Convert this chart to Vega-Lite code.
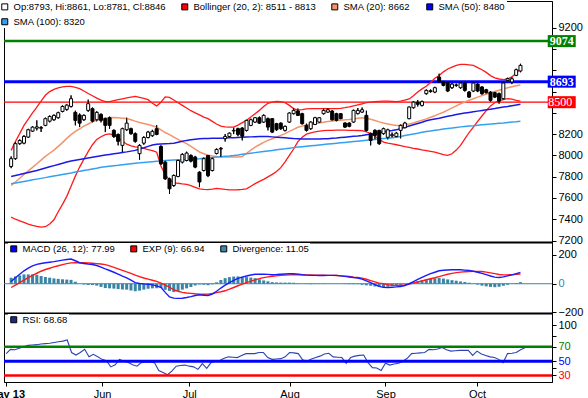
{
"$schema": "https://vega.github.io/schema/vega-lite/v6.json",
"background": "white",
"padding": {"left": -13, "top": 0, "right": 0, "bottom": 0},
"spacing": 0,
"bounds": "flush",
"config": {
 "view": {"stroke": "black", "strokeWidth": 1},
 "axis": {"labelFont": "Liberation Sans", "labelFontSize": 11, "labelColor": "black", "tickColor": "black", "domainColor": "black", "tickSize": 4, "grid": false, "labelPadding": 2},
 "legend": {"symbolType": "square", "symbolSize": 36, "symbolStrokeColor": "black", "symbolStrokeWidth": 1, "symbolOpacity": 1, "labelFont": "Liberation Sans", "labelFontSize": 9.5, "labelColor": "black", "labelLimit": 400, "columnPadding": 13, "rowPadding": 4, "padding": 1, "fillColor": "white", "orient": "none", "direction": "horizontal", "labelOffset": 4, "gridAlign": "each"}
},
"datasets": {
 "levels": [{"v": 9074}, {"v": 8693}, {"v": 8500}],
 "bars": [
{"i":0,"o":7896,"h":7990,"l":7880,"c":7969,"bu":8047,"bl":7419,"s20":7717,"s50":7802,"s100":7733,"m":16,"sg":-26,"hd":42,"r":60.5},
{"i":1,"o":7969,"h":8125,"l":7959,"c":8110,"bu":8130,"bl":7400,"s20":7750,"s50":7811,"s100":7740,"m":42,"sg":-9,"hd":51,"r":66.5},
{"i":2,"o":8110,"h":8150,"l":8100,"c":8140,"bu":8205,"bl":7385,"s20":7785,"s50":7820,"s100":7748,"m":66,"sg":8,"hd":58,"r":66},
{"i":3,"o":8115,"h":8190,"l":8105,"c":8178,"bu":8282,"bl":7370,"s20":7820,"s50":7830,"s100":7755,"m":90,"sg":25,"hd":65,"r":68},
{"i":4,"o":8172,"h":8250,"l":8165,"c":8241,"bu":8340,"bl":7355,"s20":7855,"s50":7840,"s100":7762,"m":108,"sg":43,"hd":65,"r":70},
{"i":5,"o":8228,"h":8275,"l":8220,"c":8266,"bu":8400,"bl":7343,"s20":7888,"s50":7849,"s100":7770,"m":124,"sg":58,"hd":66,"r":72},
{"i":6,"o":8255,"h":8329,"l":8235,"c":8268,"bu":8454,"bl":7333,"s20":7921,"s50":7858,"s100":7777,"m":135,"sg":73,"hd":62,"r":72.5},
{"i":7,"o":8255,"h":8275,"l":8220,"c":8262,"bu":8510,"bl":7326,"s20":7955,"s50":7870,"s100":7784,"m":141,"sg":87,"hd":54,"r":73},
{"i":8,"o":8282,"h":8355,"l":8275,"c":8345,"bu":8565,"bl":7330,"s20":7990,"s50":7882,"s100":7791,"m":146,"sg":99,"hd":47,"r":74},
{"i":9,"o":8322,"h":8375,"l":8310,"c":8366,"bu":8600,"bl":7355,"s20":8020,"s50":7893,"s100":7799,"m":150,"sg":108,"hd":42,"r":74.5},
{"i":10,"o":8335,"h":8385,"l":8325,"c":8376,"bu":8620,"bl":7395,"s20":8050,"s50":7904,"s100":7806,"m":154,"sg":117,"hd":37,"r":75},
{"i":11,"o":8354,"h":8410,"l":8345,"c":8401,"bu":8635,"bl":7470,"s20":8085,"s50":7915,"s100":7813,"m":159,"sg":125,"hd":34,"r":76},
{"i":12,"o":8413,"h":8470,"l":8405,"c":8460,"bu":8643,"bl":7540,"s20":8120,"s50":7926,"s100":7821,"m":164,"sg":133,"hd":31,"r":77},
{"i":13,"o":8432,"h":8480,"l":8420,"c":8473,"bu":8648,"bl":7615,"s20":8160,"s50":7938,"s100":7828,"m":169,"sg":140,"hd":29,"r":78},
{"i":14,"o":8460,"h":8564,"l":8450,"c":8533,"bu":8648,"bl":7710,"s20":8195,"s50":7948,"s100":7835,"m":172,"sg":145,"hd":27,"r":79.5},
{"i":15,"o":8404,"h":8420,"l":8282,"c":8329,"bu":8640,"bl":7805,"s20":8225,"s50":7955,"s100":7843,"m":160,"sg":146,"hd":14,"r":62},
{"i":16,"o":8380,"h":8395,"l":8266,"c":8303,"bu":8627,"bl":7890,"s20":8250,"s50":7962,"s100":7850,"m":146,"sg":146,"hd":0,"r":58.5},
{"i":17,"o":8335,"h":8385,"l":8325,"c":8376,"bu":8605,"bl":7965,"s20":8275,"s50":7969,"s100":7858,"m":141,"sg":146,"hd":-5,"r":62},
{"i":18,"o":8423,"h":8524,"l":8410,"c":8486,"bu":8582,"bl":8035,"s20":8295,"s50":7976,"s100":7865,"m":137,"sg":145,"hd":-8,"r":66.5},
{"i":19,"o":8439,"h":8450,"l":8310,"c":8322,"bu":8560,"bl":8100,"s20":8315,"s50":7983,"s100":7873,"m":134,"sg":143,"hd":-9,"r":56},
{"i":20,"o":8335,"h":8415,"l":8320,"c":8404,"bu":8538,"bl":8150,"s20":8330,"s50":7990,"s100":7880,"m":127,"sg":140,"hd":-13,"r":59.5},
{"i":21,"o":8385,"h":8395,"l":8310,"c":8329,"bu":8520,"bl":8175,"s20":8342,"s50":7997,"s100":7888,"m":115,"sg":137,"hd":-22,"r":56},
{"i":22,"o":8345,"h":8355,"l":8219,"c":8282,"bu":8505,"bl":8195,"s20":8350,"s50":8003,"s100":7893,"m":103,"sg":133,"hd":-30,"r":52.5},
{"i":23,"o":8354,"h":8365,"l":8250,"c":8282,"bu":8505,"bl":8202,"s20":8354,"s50":8009,"s100":7898,"m":92,"sg":124,"hd":-32,"r":50.5},
{"i":24,"o":8235,"h":8245,"l":8165,"c":8178,"bu":8515,"bl":8190,"s20":8355,"s50":8015,"s100":7903,"m":80,"sg":114,"hd":-34,"r":42},
{"i":25,"o":8197,"h":8205,"l":8094,"c":8132,"bu":8524,"bl":8165,"s20":8353,"s50":8021,"s100":7907,"m":67,"sg":104,"hd":-37,"r":45},
{"i":26,"o":8094,"h":8260,"l":8031,"c":8251,"bu":8532,"bl":8135,"s20":8350,"s50":8027,"s100":7912,"m":53,"sg":93,"hd":-40,"r":52.5},
{"i":27,"o":8241,"h":8354,"l":8230,"c":8303,"bu":8540,"bl":8105,"s20":8346,"s50":8033,"s100":7917,"m":41,"sg":82,"hd":-41,"r":50},
{"i":28,"o":8251,"h":8260,"l":8195,"c":8204,"bu":8548,"bl":8090,"s20":8335,"s50":8040,"s100":7922,"m":25,"sg":72,"hd":-47,"r":48},
{"i":29,"o":8204,"h":8215,"l":8120,"c":8132,"bu":8555,"bl":8080,"s20":8322,"s50":8047,"s100":7927,"m":8,"sg":60,"hd":-52,"r":45},
{"i":30,"o":8016,"h":8105,"l":7959,"c":8094,"bu":8545,"bl":8075,"s20":8310,"s50":8060,"s100":7930,"m":2,"sg":50,"hd":-48,"r":43},
{"i":31,"o":8115,"h":8180,"l":8100,"c":8168,"bu":8535,"bl":8065,"s20":8300,"s50":8072,"s100":7934,"m":-1,"sg":40,"hd":-41,"r":48},
{"i":32,"o":8168,"h":8230,"l":8160,"c":8219,"bu":8524,"bl":8055,"s20":8290,"s50":8085,"s100":7937,"m":-3,"sg":32,"hd":-35,"r":49},
{"i":33,"o":8185,"h":8240,"l":8175,"c":8226,"bu":8490,"bl":8045,"s20":8278,"s50":8098,"s100":7941,"m":-8,"sg":24,"hd":-32,"r":48.5},
{"i":34,"o":8251,"h":8285,"l":8190,"c":8197,"bu":8465,"bl":8030,"s20":8265,"s50":8104,"s100":7944,"m":-15,"sg":16,"hd":-31,"r":48},
{"i":35,"o":8084,"h":8095,"l":7910,"c":7921,"bu":8500,"bl":7900,"s20":8240,"s50":8107,"s100":7947,"m":-25,"sg":5,"hd":-30,"r":37},
{"i":36,"o":7937,"h":7950,"l":7770,"c":7780,"bu":8550,"bl":7820,"s20":8215,"s50":8110,"s100":7951,"m":-60,"sg":-10,"hd":-42,"r":34},
{"i":37,"o":7780,"h":7790,"l":7639,"c":7686,"bu":8545,"bl":7770,"s20":8195,"s50":8112,"s100":7954,"m":-92,"sg":-24,"hd":-50,"r":31},
{"i":38,"o":7717,"h":7820,"l":7705,"c":7811,"bu":8520,"bl":7745,"s20":8172,"s50":8115,"s100":7956,"m":-100,"sg":-42,"hd":-58,"r":36},
{"i":39,"o":7802,"h":7960,"l":7795,"c":7952,"bu":8495,"bl":7738,"s20":8150,"s50":8124,"s100":7958,"m":-102,"sg":-52,"hd":-50,"r":43},
{"i":40,"o":7937,"h":8020,"l":7925,"c":8009,"bu":8470,"bl":7732,"s20":8130,"s50":8133,"s100":7960,"m":-101,"sg":-60,"hd":-41,"r":44},
{"i":41,"o":7952,"h":8035,"l":7945,"c":8022,"bu":8445,"bl":7727,"s20":8110,"s50":8141,"s100":7962,"m":-96,"sg":-64,"hd":-32,"r":44.5},
{"i":42,"o":7999,"h":8010,"l":7935,"c":7946,"bu":8420,"bl":7715,"s20":8085,"s50":8147,"s100":7965,"m":-90,"sg":-67,"hd":-23,"r":43},
{"i":43,"o":7984,"h":7995,"l":7880,"c":7890,"bu":8400,"bl":7700,"s20":8058,"s50":8152,"s100":7967,"m":-82,"sg":-70,"hd":-12,"r":42},
{"i":44,"o":7842,"h":7850,"l":7701,"c":7750,"bu":8380,"bl":7686,"s20":8032,"s50":8157,"s100":7969,"m":-77,"sg":-72,"hd":-5,"r":38.5},
{"i":45,"o":7858,"h":7980,"l":7850,"c":7969,"bu":8360,"bl":7680,"s20":8015,"s50":8158,"s100":7973,"m":-80,"sg":-73,"hd":-7,"r":46.5},
{"i":46,"o":7999,"h":8005,"l":7796,"c":7810,"bu":8345,"bl":7678,"s20":8002,"s50":8159,"s100":7977,"m":-82,"sg":-72,"hd":-10,"r":40},
{"i":47,"o":7858,"h":7980,"l":7850,"c":7969,"bu":8320,"bl":7683,"s20":7995,"s50":8160,"s100":7980,"m":-72,"sg":-68,"hd":-4,"r":48},
{"i":48,"o":8018,"h":8065,"l":8010,"c":8056,"bu":8295,"bl":7690,"s20":7990,"s50":8161,"s100":7984,"m":-52,"sg":-62,"hd":10,"r":50},
{"i":49,"o":8060,"h":8078,"l":7984,"c":8066,"bu":8275,"bl":7685,"s20":7988,"s50":8162,"s100":7988,"m":-30,"sg":-56,"hd":26,"r":51},
{"i":50,"o":8157,"h":8200,"l":8130,"c":8178,"bu":8268,"bl":7680,"s20":7986,"s50":8164,"s100":7992,"m":-10,"sg":-49,"hd":39,"r":54},
{"i":51,"o":8178,"h":8215,"l":8170,"c":8209,"bu":8266,"bl":7676,"s20":7984,"s50":8165,"s100":7995,"m":8,"sg":-38,"hd":46,"r":56},
{"i":52,"o":8230,"h":8260,"l":8200,"c":8235,"bu":8266,"bl":7675,"s20":7984,"s50":8166,"s100":7999,"m":24,"sg":-26,"hd":50,"r":55.5},
{"i":53,"o":8251,"h":8260,"l":8180,"c":8197,"bu":8285,"bl":7677,"s20":7984,"s50":8168,"s100":8004,"m":37,"sg":-14,"hd":51,"r":55},
{"i":54,"o":8257,"h":8265,"l":8141,"c":8180,"bu":8308,"bl":7680,"s20":7990,"s50":8170,"s100":8010,"m":46,"sg":-3,"hd":49,"r":58},
{"i":55,"o":8235,"h":8335,"l":8225,"c":8329,"bu":8330,"bl":7685,"s20":8020,"s50":8172,"s100":8015,"m":54,"sg":8,"hd":46,"r":60.5},
{"i":56,"o":8282,"h":8345,"l":8275,"c":8335,"bu":8360,"bl":7710,"s20":8050,"s50":8174,"s100":8021,"m":61,"sg":18,"hd":43,"r":60.5},
{"i":57,"o":8313,"h":8360,"l":8305,"c":8354,"bu":8392,"bl":7735,"s20":8078,"s50":8176,"s100":8026,"m":66,"sg":27,"hd":39,"r":60.5},
{"i":58,"o":8354,"h":8365,"l":8295,"c":8303,"bu":8423,"bl":7755,"s20":8100,"s50":8177,"s100":8031,"m":67,"sg":36,"hd":31,"r":62},
{"i":59,"o":8313,"h":8385,"l":8305,"c":8376,"bu":8460,"bl":7775,"s20":8122,"s50":8178,"s100":8037,"m":66,"sg":43,"hd":23,"r":62},
{"i":60,"o":8345,"h":8355,"l":8235,"c":8266,"bu":8490,"bl":7798,"s20":8141,"s50":8177,"s100":8042,"m":65,"sg":48,"hd":17,"r":55},
{"i":61,"o":8345,"h":8350,"l":8210,"c":8219,"bu":8500,"bl":7822,"s20":8157,"s50":8174,"s100":8047,"m":63,"sg":52,"hd":11,"r":52.5},
{"i":62,"o":8298,"h":8305,"l":8230,"c":8241,"bu":8507,"bl":7848,"s20":8172,"s50":8171,"s100":8052,"m":64,"sg":55,"hd":9,"r":53},
{"i":63,"o":8303,"h":8310,"l":8240,"c":8251,"bu":8505,"bl":7885,"s20":8188,"s50":8168,"s100":8057,"m":66,"sg":58,"hd":8,"r":53.5},
{"i":64,"o":8235,"h":8280,"l":8225,"c":8273,"bu":8495,"bl":7940,"s20":8205,"s50":8165,"s100":8062,"m":68,"sg":60,"hd":8,"r":56},
{"i":65,"o":8313,"h":8405,"l":8305,"c":8398,"bu":8470,"bl":8000,"s20":8225,"s50":8162,"s100":8068,"m":70,"sg":62,"hd":8,"r":62},
{"i":66,"o":8392,"h":8445,"l":8385,"c":8423,"bu":8440,"bl":8060,"s20":8245,"s50":8159,"s100":8073,"m":70,"sg":63,"hd":7,"r":61.5},
{"i":67,"o":8417,"h":8440,"l":8370,"c":8376,"bu":8425,"bl":8130,"s20":8264,"s50":8157,"s100":8078,"m":67,"sg":64,"hd":3,"r":60.5},
{"i":68,"o":8392,"h":8400,"l":8290,"c":8298,"bu":8430,"bl":8170,"s20":8275,"s50":8155,"s100":8082,"m":63,"sg":63,"hd":0,"r":52},
{"i":69,"o":8282,"h":8298,"l":8225,"c":8235,"bu":8438,"bl":8200,"s20":8285,"s50":8154,"s100":8086,"m":60,"sg":62,"hd":-2,"r":50},
{"i":70,"o":8251,"h":8320,"l":8240,"c":8313,"bu":8440,"bl":8212,"s20":8293,"s50":8154,"s100":8090,"m":58,"sg":61,"hd":-3,"r":53},
{"i":71,"o":8291,"h":8362,"l":8285,"c":8354,"bu":8440,"bl":8220,"s20":8298,"s50":8155,"s100":8094,"m":58,"sg":60,"hd":-2,"r":55},
{"i":72,"o":8313,"h":8360,"l":8305,"c":8354,"bu":8439,"bl":8228,"s20":8305,"s50":8155,"s100":8098,"m":57,"sg":59,"hd":-2,"r":57},
{"i":73,"o":8392,"h":8440,"l":8385,"c":8423,"bu":8439,"bl":8232,"s20":8312,"s50":8156,"s100":8102,"m":57,"sg":59,"hd":-2,"r":60},
{"i":74,"o":8407,"h":8445,"l":8400,"c":8429,"bu":8439,"bl":8235,"s20":8318,"s50":8157,"s100":8106,"m":58,"sg":58,"hd":0,"r":61},
{"i":75,"o":8417,"h":8425,"l":8325,"c":8335,"bu":8440,"bl":8236,"s20":8323,"s50":8160,"s100":8110,"m":58,"sg":58,"hd":0,"r":56},
{"i":76,"o":8392,"h":8400,"l":8320,"c":8329,"bu":8440,"bl":8238,"s20":8327,"s50":8163,"s100":8114,"m":58,"sg":57,"hd":1,"r":55.5},
{"i":77,"o":8392,"h":8398,"l":8340,"c":8345,"bu":8442,"bl":8238,"s20":8331,"s50":8167,"s100":8118,"m":55,"sg":55,"hd":0,"r":55},
{"i":78,"o":8304,"h":8310,"l":8258,"c":8266,"bu":8448,"bl":8237,"s20":8334,"s50":8171,"s100":8122,"m":51,"sg":53,"hd":-2,"r":47},
{"i":79,"o":8304,"h":8310,"l":8265,"c":8273,"bu":8455,"bl":8236,"s20":8338,"s50":8175,"s100":8126,"m":47,"sg":50,"hd":-3,"r":55},
{"i":80,"o":8313,"h":8430,"l":8305,"c":8423,"bu":8465,"bl":8235,"s20":8343,"s50":8179,"s100":8130,"m":43,"sg":46,"hd":-3,"r":57},
{"i":81,"o":8392,"h":8445,"l":8385,"c":8423,"bu":8475,"bl":8234,"s20":8348,"s50":8183,"s100":8134,"m":40,"sg":43,"hd":-3,"r":58},
{"i":82,"o":8407,"h":8450,"l":8400,"c":8429,"bu":8485,"bl":8232,"s20":8353,"s50":8188,"s100":8138,"m":32,"sg":39,"hd":-7,"r":58.5},
{"i":83,"o":8376,"h":8420,"l":8225,"c":8235,"bu":8495,"bl":8222,"s20":8350,"s50":8194,"s100":8142,"m":20,"sg":31,"hd":-11,"r":48},
{"i":84,"o":8204,"h":8215,"l":8094,"c":8141,"bu":8501,"bl":8205,"s20":8340,"s50":8200,"s100":8146,"m":8,"sg":22,"hd":-14,"r":41},
{"i":85,"o":8235,"h":8245,"l":8150,"c":8188,"bu":8505,"bl":8180,"s20":8328,"s50":8207,"s100":8150,"m":-6,"sg":13,"hd":-19,"r":40.5},
{"i":86,"o":8235,"h":8240,"l":8100,"c":8110,"bu":8508,"bl":8150,"s20":8315,"s50":8213,"s100":8154,"m":-18,"sg":4,"hd":-22,"r":37},
{"i":87,"o":8204,"h":8260,"l":8195,"c":8251,"bu":8510,"bl":8125,"s20":8305,"s50":8220,"s100":8158,"m":-25,"sg":0,"hd":-25,"r":47},
{"i":88,"o":8170,"h":8250,"l":8150,"c":8240,"bu":8510,"bl":8115,"s20":8296,"s50":8227,"s100":8162,"m":-26,"sg":-6,"hd":-20,"r":44.5},
{"i":89,"o":8185,"h":8215,"l":8170,"c":8195,"bu":8508,"bl":8108,"s20":8288,"s50":8233,"s100":8166,"m":-24,"sg":-10,"hd":-14,"r":46},
{"i":90,"o":8178,"h":8220,"l":8170,"c":8209,"bu":8505,"bl":8100,"s20":8282,"s50":8240,"s100":8170,"m":-22,"sg":-12,"hd":-10,"r":47},
{"i":91,"o":8235,"h":8290,"l":8160,"c":8282,"bu":8510,"bl":8092,"s20":8284,"s50":8252,"s100":8178,"m":-19,"sg":-11,"hd":-8,"r":50},
{"i":92,"o":8260,"h":8315,"l":8255,"c":8304,"bu":8520,"bl":8083,"s20":8290,"s50":8264,"s100":8186,"m":-12,"sg":-8,"hd":-4,"r":54},
{"i":93,"o":8345,"h":8460,"l":8340,"c":8454,"bu":8530,"bl":8075,"s20":8296,"s50":8276,"s100":8194,"m":0,"sg":-3,"hd":3,"r":60.5},
{"i":94,"o":8448,"h":8510,"l":8440,"c":8501,"bu":8560,"bl":8066,"s20":8305,"s50":8288,"s100":8202,"m":15,"sg":4,"hd":11,"r":61},
{"i":95,"o":8500,"h":8520,"l":8460,"c":8480,"bu":8595,"bl":8060,"s20":8318,"s50":8300,"s100":8209,"m":30,"sg":12,"hd":18,"r":61.5},
{"i":96,"o":8470,"h":8515,"l":8460,"c":8505,"bu":8625,"bl":8052,"s20":8330,"s50":8312,"s100":8217,"m":45,"sg":20,"hd":25,"r":62},
{"i":97,"o":8580,"h":8620,"l":8570,"c":8611,"bu":8650,"bl":8045,"s20":8343,"s50":8325,"s100":8225,"m":58,"sg":28,"hd":30,"r":66.5},
{"i":98,"o":8600,"h":8620,"l":8590,"c":8608,"bu":8685,"bl":8038,"s20":8358,"s50":8334,"s100":8230,"m":70,"sg":35,"hd":35,"r":66},
{"i":99,"o":8595,"h":8645,"l":8585,"c":8636,"bu":8725,"bl":8031,"s20":8373,"s50":8342,"s100":8236,"m":80,"sg":42,"hd":38,"r":67},
{"i":100,"o":8736,"h":8768,"l":8680,"c":8691,"bu":8750,"bl":8020,"s20":8390,"s50":8350,"s100":8241,"m":90,"sg":50,"hd":40,"r":69},
{"i":101,"o":8691,"h":8700,"l":8650,"c":8658,"bu":8785,"bl":8008,"s20":8405,"s50":8359,"s100":8247,"m":94,"sg":58,"hd":36,"r":66},
{"i":102,"o":8682,"h":8690,"l":8595,"c":8605,"bu":8812,"bl":8000,"s20":8425,"s50":8367,"s100":8252,"m":96,"sg":66,"hd":30,"r":64},
{"i":103,"o":8636,"h":8680,"l":8625,"c":8670,"bu":8830,"bl":8015,"s20":8446,"s50":8375,"s100":8257,"m":97,"sg":72,"hd":25,"r":64.5},
{"i":104,"o":8658,"h":8675,"l":8645,"c":8662,"bu":8845,"bl":8050,"s20":8466,"s50":8384,"s100":8263,"m":98,"sg":77,"hd":21,"r":65},
{"i":105,"o":8636,"h":8690,"l":8625,"c":8680,"bu":8855,"bl":8094,"s20":8485,"s50":8392,"s100":8268,"m":97,"sg":81,"hd":16,"r":65},
{"i":106,"o":8680,"h":8690,"l":8600,"c":8611,"bu":8855,"bl":8155,"s20":8502,"s50":8398,"s100":8272,"m":95,"sg":83,"hd":12,"r":65},
{"i":107,"o":8595,"h":8605,"l":8540,"c":8548,"bu":8850,"bl":8215,"s20":8518,"s50":8404,"s100":8276,"m":92,"sg":85,"hd":7,"r":58},
{"i":108,"o":8605,"h":8690,"l":8595,"c":8680,"bu":8845,"bl":8265,"s20":8533,"s50":8410,"s100":8279,"m":87,"sg":86,"hd":1,"r":64},
{"i":109,"o":8670,"h":8680,"l":8595,"c":8605,"bu":8825,"bl":8320,"s20":8548,"s50":8416,"s100":8283,"m":80,"sg":86,"hd":-6,"r":60},
{"i":110,"o":8643,"h":8650,"l":8570,"c":8580,"bu":8805,"bl":8370,"s20":8562,"s50":8422,"s100":8287,"m":72,"sg":85,"hd":-13,"r":58},
{"i":111,"o":8617,"h":8625,"l":8580,"c":8589,"bu":8780,"bl":8420,"s20":8575,"s50":8428,"s100":8291,"m":63,"sg":81,"hd":-18,"r":56},
{"i":112,"o":8595,"h":8605,"l":8505,"c":8517,"bu":8750,"bl":8465,"s20":8588,"s50":8434,"s100":8294,"m":54,"sg":76,"hd":-22,"r":55},
{"i":113,"o":8589,"h":8598,"l":8540,"c":8548,"bu":8728,"bl":8495,"s20":8600,"s50":8440,"s100":8298,"m":46,"sg":70,"hd":-24,"r":52.5},
{"i":114,"o":8580,"h":8590,"l":8486,"c":8510,"bu":8718,"bl":8515,"s20":8612,"s50":8447,"s100":8302,"m":43,"sg":64,"hd":-21,"r":48},
{"i":115,"o":8533,"h":8690,"l":8525,"c":8680,"bu":8712,"bl":8525,"s20":8625,"s50":8454,"s100":8305,"m":48,"sg":62,"hd":-14,"r":60.5},
{"i":116,"o":8705,"h":8730,"l":8695,"c":8721,"bu":8718,"bl":8533,"s20":8636,"s50":8460,"s100":8309,"m":55,"sg":62,"hd":-7,"r":61},
{"i":117,"o":8690,"h":8735,"l":8670,"c":8720,"bu":8738,"bl":8528,"s20":8645,"s50":8467,"s100":8313,"m":62,"sg":63,"hd":-1,"r":62},
{"i":118,"o":8752,"h":8815,"l":8745,"c":8805,"bu":8775,"bl":8518,"s20":8654,"s50":8474,"s100":8316,"m":70,"sg":65,"hd":5,"r":66},
{"i":119,"o":8793,"h":8861,"l":8781,"c":8846,"bu":8813,"bl":8511,"s20":8662,"s50":8480,"s100":8320,"m":78,"sg":67,"hd":11,"r":68.7}
 ]
},
"data": {"name": "bars"},
"resolve": {
 "scale": {"color": "independent", "fill": "independent", "x": "independent", "y": "independent"},
 "legend": {"color": "independent", "fill": "independent"}
},
"vconcat": [
 {
  "width": 548, "height": 241,
  "layer": [
   {"data": {"values": [{"k": 1}]},
    "mark": {"type": "point", "shape": "square", "filled": true, "opacity": 0},
    "encoding": {"color": {"datum": "SMA (100): 8320", "type": "nominal",
      "scale": {"domain": ["Op:8793, Hi:8861, Lo:8781, Cl:8846", "Bollinger (20, 2): 8511 - 8813", "SMA (20): 8662", "SMA (50): 8480", "SMA (100): 8320"], "range": ["#ffffff", "#ff0000", "#f4946a", "#0000ff", "#33a0f0"]},
      "legend": {"title": null, "columns": 4, "legendX": -5, "legendY": 0}}}},
   {"mark": {"type": "rule", "color": "black", "strokeWidth": 1},
    "encoding": {"x": {"field": "i", "type": "quantitative", "scale": {"domain": [-0.5, 125.2], "nice": false, "zero": false},
       "axis": {"orient": "bottom", "labels": false, "ticks": false, "domainWidth": 2, "domainColor": "black", "title": null}},
     "y": {"field": "l", "type": "quantitative", "scale": {"domain": [7186, 9451], "nice": false, "zero": false},
       "axis": {"orient": "right", "title": null, "tickCount": 30, "labelOverlap": false, "labelBound": false, "values": [7200, 7400, 7600, 7800, 8000, 8200, 8400, 8600, 8800, 9000, 9200], "format": "d", "labelExpr": "(datum.value > 8200 && datum.value < 9200) ? '' : datum.label"}},
     "y2": {"field": "h"}}},
   {"data": {"values": [{"k": 1}]},
    "mark": {"type": "rule", "color": "#008000", "strokeWidth": 2.5},
    "encoding": {"y": {"datum": 9074, "type": "quantitative", "scale": {"domain": [7186, 9451], "nice": false, "zero": false}}}},
   {"data": {"values": [{"k": 1}]},
    "mark": {"type": "rule", "color": "#0000ff", "strokeWidth": 3},
    "encoding": {"y": {"datum": 8693, "type": "quantitative", "scale": {"domain": [7186, 9451], "nice": false, "zero": false}}}},
   {"data": {"values": [{"k": 1}]},
    "mark": {"type": "rule", "color": "#ff0000", "strokeWidth": 1.2},
    "encoding": {"y": {"datum": 8500, "type": "quantitative", "scale": {"domain": [7186, 9451], "nice": false, "zero": false}}}},
   {"mark": {"type": "line", "color": "#ff1a1a", "strokeWidth": 1.3},
    "encoding": {"x": {"field": "i", "type": "quantitative", "scale": {"domain": [-0.5, 125.2], "nice": false, "zero": false}},
     "y": {"field": "bu", "type": "quantitative", "scale": {"domain": [7186, 9451], "nice": false, "zero": false}}}},
   {"mark": {"type": "line", "color": "#ff1a1a", "strokeWidth": 1.3},
    "encoding": {"x": {"field": "i", "type": "quantitative", "scale": {"domain": [-0.5, 125.2], "nice": false, "zero": false}},
     "y": {"field": "bl", "type": "quantitative", "scale": {"domain": [7186, 9451], "nice": false, "zero": false}}}},
   {"mark": {"type": "line", "color": "#f4946a", "strokeWidth": 1.5},
    "encoding": {"x": {"field": "i", "type": "quantitative", "scale": {"domain": [-0.5, 125.2], "nice": false, "zero": false}},
     "y": {"field": "s20", "type": "quantitative", "scale": {"domain": [7186, 9451], "nice": false, "zero": false}}}},
   {"mark": {"type": "line", "color": "#1a1ae6", "strokeWidth": 1.5},
    "encoding": {"x": {"field": "i", "type": "quantitative", "scale": {"domain": [-0.5, 125.2], "nice": false, "zero": false}},
     "y": {"field": "s50", "type": "quantitative", "scale": {"domain": [7186, 9451], "nice": false, "zero": false}}}},
   {"mark": {"type": "line", "color": "#33a0f0", "strokeWidth": 1.5},
    "encoding": {"x": {"field": "i", "type": "quantitative", "scale": {"domain": [-0.5, 125.2], "nice": false, "zero": false}},
     "y": {"field": "s100", "type": "quantitative", "scale": {"domain": [7186, 9451], "nice": false, "zero": false}}}},
   {"mark": {"type": "rule", "color": "black", "strokeWidth": 1},
    "encoding": {"x": {"field": "i", "type": "quantitative", "scale": {"domain": [-0.5, 125.2], "nice": false, "zero": false}},
     "y": {"field": "l", "type": "quantitative", "scale": {"domain": [7186, 9451], "nice": false, "zero": false}},
     "y2": {"field": "h"}}},
   {"mark": {"type": "bar", "width": 3, "stroke": "black", "strokeWidth": 1},
    "encoding": {"x": {"field": "i", "type": "quantitative", "scale": {"domain": [-0.5, 125.2], "nice": false, "zero": false}},
     "y": {"field": "o", "type": "quantitative", "scale": {"domain": [7186, 9451], "nice": false, "zero": false}},
     "y2": {"field": "c"},
     "fill": {"condition": {"test": "datum.c < datum.o", "value": "black"}, "value": "white"}}},
   {"data": {"name": "levels"},
    "mark": {"type": "point", "shape": "M-1,-0.43L1,-0.43L1,0.43L-1,0.43Z", "filled": true, "size": 784, "opacity": 1},
    "encoding": {"x": {"datum": 128.64, "type": "quantitative", "scale": {"domain": [-0.5, 125.2], "nice": false, "zero": false}},
     "y": {"field": "v", "type": "quantitative", "scale": {"domain": [7186, 9451], "nice": false, "zero": false}},
     "fill": {"field": "v", "type": "nominal", "scale": {"domain": [9074, 8693, 8500], "range": ["#008000", "#0000ff", "#ff0000"]}, "legend": null}}},
   {"data": {"name": "levels"},
    "transform": [{"filter": "datum.v > 8600"}],
    "mark": {"type": "text", "font": "Liberation Serif", "fontSize": 12, "fontWeight": "bold", "color": "white", "align": "center", "baseline": "middle"},
    "encoding": {"x": {"datum": 128.64, "type": "quantitative", "scale": {"domain": [-0.5, 125.2], "nice": false, "zero": false}},
     "y": {"field": "v", "type": "quantitative", "scale": {"domain": [7186, 9451], "nice": false, "zero": false}},
     "text": {"field": "v", "type": "quantitative", "format": "d"}}},
   {"data": {"name": "levels"},
    "transform": [{"filter": "datum.v < 8600"}],
    "mark": {"type": "text", "font": "Liberation Serif", "fontSize": 12, "color": "white", "align": "center", "baseline": "middle"},
    "encoding": {"x": {"datum": 128.3, "type": "quantitative", "scale": {"domain": [-0.5, 125.2], "nice": false, "zero": false}},
     "y": {"field": "v", "type": "quantitative", "scale": {"domain": [7186, 9451], "nice": false, "zero": false}},
     "text": {"field": "v", "type": "quantitative", "format": "d"}}}
  ]
 },
 {
  "width": 548, "height": 71,
  "layer": [
   {"data": {"values": [{"k": 1}]},
    "mark": {"type": "point", "shape": "square", "filled": true, "opacity": 0},
    "encoding": {"color": {"datum": "MACD (26, 12): 77.99", "type": "nominal",
      "scale": {"domain": ["MACD (26, 12): 77.99", "EXP (9): 66.94", "Divergence: 11.05"], "range": ["#0000ff", "#ff0000", "#3d88a8"]},
      "legend": {"title": null, "columns": 3, "legendX": 4, "legendY": 1}}}},
   {"mark": {"type": "bar", "width": 3, "color": "#3a85a5"},
    "encoding": {"x": {"field": "i", "type": "quantitative", "scale": {"domain": [-0.5, 125.2], "nice": false, "zero": false},
       "axis": {"orient": "bottom", "labels": false, "ticks": false, "domainWidth": 2, "domainColor": "black", "title": null}},
     "y": {"field": "hd", "type": "quantitative", "scale": {"domain": [-203.5, 290.4], "nice": false, "zero": false},
      "axis": {"orient": "right", "title": null, "tickCount": 30, "labelOverlap": false, "labelBound": false, "values": [-200, 0, 200], "format": "d", "labelColor": {"condition": {"test": "datum.value === 0", "value": "#3a85a5"}, "value": "black"}}},
     "y2": {"datum": 0}}},
   {"data": {"values": [{"k": 1}]},
    "mark": {"type": "rule", "color": "#3a85a5", "strokeWidth": 1},
    "encoding": {"y": {"datum": 0, "type": "quantitative", "scale": {"domain": [-203.5, 290.4], "nice": false, "zero": false}}}},
   {"mark": {"type": "line", "color": "#ff1a1a", "strokeWidth": 1.4},
    "encoding": {"x": {"field": "i", "type": "quantitative", "scale": {"domain": [-0.5, 125.2], "nice": false, "zero": false}},
     "y": {"field": "sg", "type": "quantitative", "scale": {"domain": [-203.5, 290.4], "nice": false, "zero": false}}}},
   {"mark": {"type": "line", "color": "#1a1aff", "strokeWidth": 1.4},
    "encoding": {"x": {"field": "i", "type": "quantitative", "scale": {"domain": [-0.5, 125.2], "nice": false, "zero": false}},
     "y": {"field": "m", "type": "quantitative", "scale": {"domain": [-203.5, 290.4], "nice": false, "zero": false}}}}
  ]
 },
 {
  "width": 548, "height": 69,
  "layer": [
   {"data": {"values": [{"k": 1}]},
    "mark": {"type": "point", "shape": "square", "filled": true, "opacity": 0},
    "encoding": {"color": {"datum": "RSI: 68.68", "type": "nominal",
      "scale": {"domain": ["RSI: 68.68"], "range": ["#1c2a86"]},
      "legend": {"title": null, "columns": 1, "legendX": 4, "legendY": 1}}}},
   {"mark": {"type": "line", "color": "#2b45b0", "strokeWidth": 1.1},
    "encoding": {"x": {"field": "i", "type": "quantitative", "scale": {"domain": [-0.5, 125.2], "nice": false, "zero": false},
       "axis": {"orient": "bottom", "title": null, "tickCount": 30, "values": [0, 22, 42, 65, 87, 108], "labelFlush": false, "labelOverlap": false, "labelBound": false,
        "labelExpr": "datum.value === 0 ? 'May 13' : datum.value === 22 ? 'Jun' : datum.value === 42 ? 'Jul' : datum.value === 65 ? 'Aug' : datum.value === 87 ? 'Sep' : 'Oct'",
        "labelFontWeight": {"condition": {"test": "datum.value === 0", "value": "bold"}, "value": "normal"}}},
     "y": {"field": "r", "type": "quantitative", "scale": {"domain": [20.9, 117.2], "nice": false, "zero": false},
       "axis": {"orient": "right", "title": null, "tickCount": 30, "labelOverlap": false, "labelBound": false, "values": [30, 40, 50, 70, 85, 100], "format": "d",
        "labelExpr": "(datum.value === 40 || datum.value === 85) ? '' : datum.label",
        "labelColor": {"condition": [{"test": "datum.value === 70", "value": "#008000"}, {"test": "datum.value === 50", "value": "#0000ff"}, {"test": "datum.value === 30", "value": "#ff0000"}], "value": "black"}}}}},
   {"data": {"values": [{"k": 1}]},
    "mark": {"type": "rule", "color": "#008000", "strokeWidth": 2.5},
    "encoding": {"y": {"datum": 70, "type": "quantitative", "scale": {"domain": [20.9, 117.2], "nice": false, "zero": false}}}},
   {"data": {"values": [{"k": 1}]},
    "mark": {"type": "rule", "color": "#0000ff", "strokeWidth": 3},
    "encoding": {"y": {"datum": 50, "type": "quantitative", "scale": {"domain": [20.9, 117.2], "nice": false, "zero": false}}}},
   {"data": {"values": [{"k": 1}]},
    "mark": {"type": "rule", "color": "#ff0000", "strokeWidth": 2.5},
    "encoding": {"y": {"datum": 30, "type": "quantitative", "scale": {"domain": [20.9, 117.2], "nice": false, "zero": false}}}}
  ]
 }
]
}
